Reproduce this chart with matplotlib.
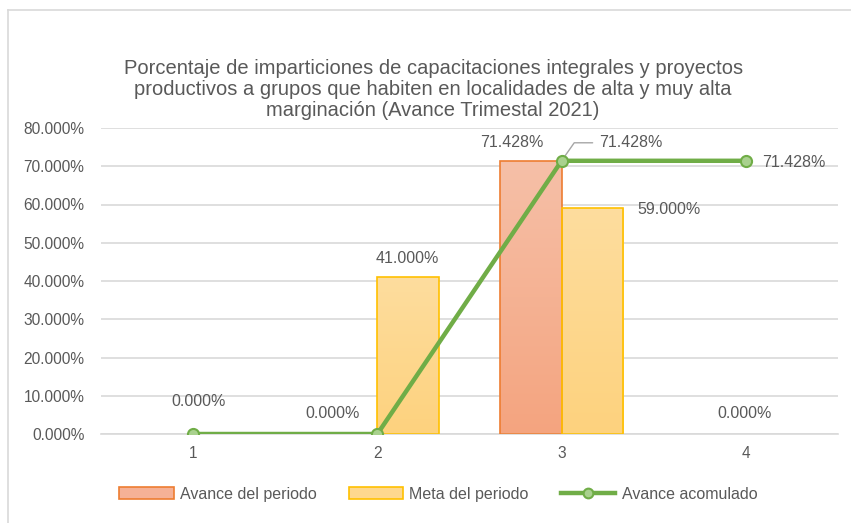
import numpy as np
import matplotlib
matplotlib.use("Agg")
import matplotlib.pyplot as plt
from matplotlib.lines import Line2D
from matplotlib.patches import Patch
from matplotlib.colors import LinearSegmentedColormap

plt.rcParams["font.family"] = ["Liberation Sans", "DejaVu Sans"]

TEXT = "#595959"
GRID = "#D9D9D9"

categories = ["1", "2", "3", "4"]
avance_periodo = [0.0, 0.0, 71.428, 0.0]
meta_periodo = [0.0, 41.0, 59.0, 0.0]
avance_acumulado = [0.0, 0.0, 71.428, 71.428]
series_names = ["Avance del periodo", "Meta del periodo", "Avance acomulado"]
title = ("Porcentaje de imparticiones de capacitaciones integrales y proyectos\n"
         "productivos a grupos que habiten en localidades de alta y muy alta\n"
         "marginación (Avance Trimestal 2021)")

fig = plt.figure(figsize=(8.51, 5.23), dpi=100)
ax = fig.add_axes([101 / 851, 89 / 523, 737 / 851, 306 / 523])

x = np.arange(len(categories))
w = 1 / 3


def gradient_bars(xs, vals, top, bottom, edge):
    bars = ax.bar(xs, vals, w, color="none", edgecolor=[edge if v > 0 else "none" for v in vals],
                  linewidth=1.2, zorder=3)
    cmap = LinearSegmentedColormap.from_list("g", [bottom, top])
    grad = np.linspace(0, 1, 256).reshape(-1, 1)
    for b, v in zip(bars, vals):
        if v <= 0:
            continue
        x0 = b.get_x()
        im = ax.imshow(grad, cmap=cmap, origin="lower", aspect="auto",
                       extent=(x0, x0 + b.get_width(), 0, v), zorder=2)
        im.set_clip_path(b)
    return bars


gradient_bars(x - w / 2, avance_periodo, "#F6C0A8", "#F4A47F", "#ED7D31")
gradient_bars(x + w / 2, meta_periodo, "#FEDD9E", "#FDD27E", "#FFC000")
ax.plot(x, avance_acumulado, color="#70AD47", lw=3.2, marker="o", ms=8,
        mfc="#A9D18E", mec="#70AD47", mew=1.5, zorder=4, solid_capstyle="round")

ax.set_xlim(-0.5, len(categories) - 0.5)
ax.set_ylim(0, 80)
ax.set_yticks(np.arange(0, 81, 10))
ax.yaxis.set_major_formatter(matplotlib.ticker.FuncFormatter(lambda v, p: f"{v:.3f}%"))
ax.set_xticks(x)
ax.set_xticklabels(categories)
ax.grid(axis="y", color=GRID, lw=1.2, zorder=0)
for s in ["top", "right", "left"]:
    ax.spines[s].set_visible(False)
ax.spines["bottom"].set_color(GRID)
ax.spines["bottom"].set_linewidth(1.2)
ax.tick_params(length=0, colors=TEXT, labelsize=11.2)
ax.tick_params(axis="y", pad=12)
ax.tick_params(axis="x", pad=9)

LAB = 11.5


def lab(vals, i, dx, dy):
    ax.annotate(f"{vals[i]:.3f}%", (x[i], vals[i]), xytext=(dx, dy), textcoords="offset pixels",
                ha="center", va="center", color=TEXT, fontsize=LAB, zorder=5)


# data labels (offsets in pixels from the category centre / value)
lab(avance_acumulado, 0, 5, 32)
lab(avance_periodo, 1, -45, 21)
lab(meta_periodo, 1, 30, 19)
lab(avance_periodo, 2, -50, 18)
lab(meta_periodo, 2, 107, -1)
lab(avance_acumulado, 3, 48, -2)
lab(avance_periodo, 3, -1, 21)
ax.annotate(f"{avance_acumulado[2]:.3f}%", (x[2], avance_acumulado[2]), xytext=(69, 18),
            textcoords="offset pixels", ha="center", va="center", color=TEXT, fontsize=LAB,
            zorder=5)
ax.annotate("", (x[2], avance_acumulado[2]), xytext=(31, 18), textcoords="offset pixels",
            arrowprops=dict(arrowstyle="-", color="#A6A6A6", lw=1,
                            connectionstyle="angle,angleA=0,angleB=55,rad=0",
                            shrinkA=0, shrinkB=4))

fig.text(0.509, 0.829, title, ha="center", va="center", fontsize=14.5, color=TEXT,
         linespacing=1.16)

handles = [Patch(facecolor="#F5B196", edgecolor="#ED7D31", lw=1.2),
           Patch(facecolor="#FED88E", edgecolor="#FFC000", lw=1.2),
           Line2D([], [], color="#70AD47", lw=3.2, marker="o", ms=7,
                  mfc="#A9D18E", mec="#70AD47", mew=1.5)]
leg = fig.legend(handles, series_names, loc="center", bbox_to_anchor=(0.515, 0.055), ncol=3,
                 frameon=False, fontsize=LAB, handlelength=3.4, handleheight=0.8,
                 handletextpad=0.4, columnspacing=2.0, labelcolor=TEXT)

# chart border (only top and left visible in the crop)
fig.add_artist(Line2D([8 / 851, 8 / 851], [0, 1 - 10 / 523], color=GRID, lw=1.2))
fig.add_artist(Line2D([8 / 851, 1], [1 - 10 / 523, 1 - 10 / 523], color=GRID, lw=1.2))

fig.savefig("out.png", dpi=100)
